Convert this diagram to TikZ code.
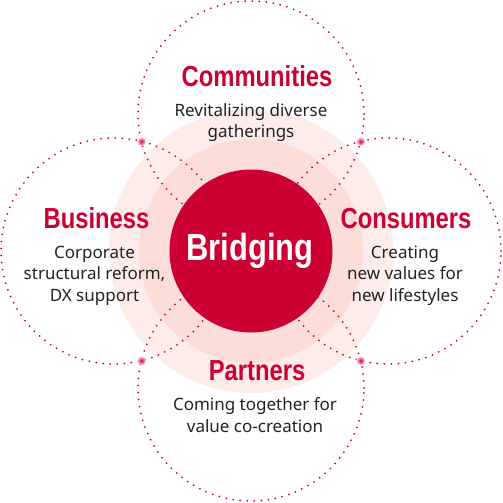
\documentclass[tikz,border=0pt]{standalone}
\usepackage{fontspec}
\usetikzlibrary{calc}
\setmainfont{Noto Sans}
\newfontfamily\headfont[FakeStretch=0.82]{Liberation Sans}

\definecolor{brandred}{RGB}{204,0,51}
\definecolor{haloouter}{RGB}{253,236,234}
\definecolor{haloinner}{RGB}{252,221,216}
\definecolor{bodygray}{RGB}{34,34,34}

\tikzset{
  ring/.style={draw=brandred, line width=2pt, line cap=round, dash pattern=on 0pt off 7.05pt},
  headlabel/.style={anchor=base, inner sep=0pt, text=brandred,
    font=\headfont\bfseries\fontsize{29}{30}\selectfont},
  bodylabel/.style={anchor=base, inner sep=0pt, text=bodygray, align=center,
    font=\fontsize{17}{21.5}\selectfont},
  joint/.style={inner color=brandred, outer color=brandred!8}
}

\begin{document}
\begin{tikzpicture}[x=1pt, y=-1pt]

  % --- Parameter ---
  \def\ringoffset{137}   % Abstand Mitte -> Mitte der gepunkteten Kreise
  \def\ringradius{113pt} % Radius der gepunkteten Kreise
  \def\jointdist{109.6}  % Lage der Schnittpunkte (diagonal)

  \useasboundingbox (0,0) rectangle (503,503);

  % --- Mitte ---
  \coordinate (M) at (251,251);

  % --- Halo ---
  \fill[haloouter] (M) circle (142pt);
  \fill[haloinner] (M) circle (112pt);

  % --- gepunktete Kreise ---
  \coordinate (Ctop)    at ($(M)+(0,-\ringoffset)$);
  \coordinate (Cleft)   at ($(M)+(-\ringoffset,0)$);
  \coordinate (Cright)  at ($(M)+(\ringoffset,0)$);
  \coordinate (Cbottom) at ($(M)+(0,\ringoffset)$);
  \draw[ring] (Ctop)    circle (\ringradius);
  \draw[ring] (Cleft)   circle (\ringradius);
  \draw[ring] (Cright)  circle (\ringradius);
  \draw[ring] (Cbottom) circle (\ringradius);

  % --- Kern ---
  \fill[brandred] (M) circle (81.5pt);
  \node (bridge) at (250,260) [anchor=base, inner sep=0pt, text=white,
    font=\headfont\bfseries\fontsize{37.7}{40}\selectfont] {Bridging};

  % --- Schnittpunkte ---
  \coordinate (Jtl) at ($(M)+(-\jointdist,-\jointdist)$);
  \coordinate (Jtr) at ($(M)+(\jointdist,-\jointdist)$);
  \coordinate (Jbl) at ($(M)+(-\jointdist,\jointdist)$);
  \coordinate (Jbr) at ($(M)+(\jointdist,\jointdist)$);
  \shade[joint] (Jtl) circle (4.5pt);
  \shade[joint] (Jtr) circle (4.5pt);
  \shade[joint] (Jbl) circle (4.5pt);
  \shade[joint] (Jbr) circle (4.5pt);

  % --- Beschriftungen (base = letzte Zeile) ---
  \node (commhead) at (257,86)    [headlabel] {Communities};
  \node (commtext) at (251,137.5) [bodylabel] {Revitalizing diverse\\gatherings};

  \node (bushead) at (96.5,228) [headlabel] {Business};
  \node (bustext) at (94.5,301) [bodylabel] {Corporate\\structural reform,\\DX support};

  \node (conhead) at (406,228) [headlabel] {Consumers};
  \node (context) at (405,301) [bodylabel] {Creating\\new values for\\new lifestyles};

  \node (parthead) at (257,380) [headlabel] {Partners};
  \node (parttext) at (255,432) [bodylabel] {Coming together for\\value co-creation};

\end{tikzpicture}
\end{document}
